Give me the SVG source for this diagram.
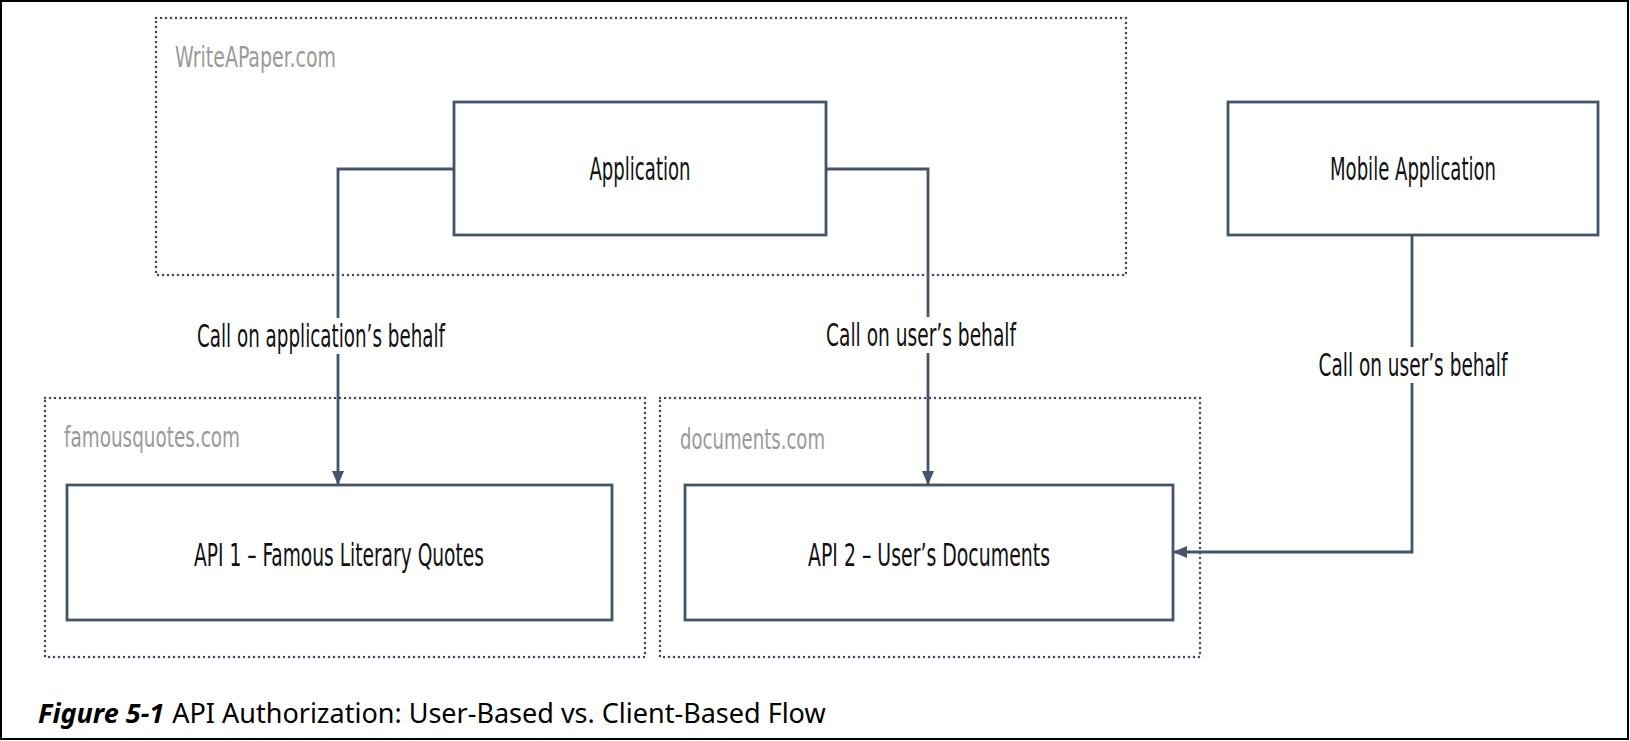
<svg xmlns="http://www.w3.org/2000/svg" width="1630" height="741" viewBox="0 0 1630 741">
<style>
.frame{fill:#fff;stroke:#000;stroke-width:2}
.zone{fill:none;stroke:#3f4858;stroke-width:2.5;stroke-dasharray:0 5;stroke-linecap:round}
.box{fill:#fff;stroke:#44546a;stroke-width:2.8}
.conn{fill:none;stroke:#44546a;stroke-width:2.8}
.t{font-family:"Liberation Sans Narrow","DejaVu Sans Condensed","Liberation Sans",sans-serif;fill:#111;text-anchor:middle;dominant-baseline:central;font-size:32px}
.zt{font-family:"Liberation Sans Narrow","DejaVu Sans Condensed","Liberation Sans",sans-serif;fill:#9a9a9a;dominant-baseline:central;font-size:29px}
.cap{font-family:"Noto Sans","Open Sans",sans-serif;fill:#000;font-size:27px}
.lbg{fill:#fff}
</style>
<defs>
<marker id="arr" viewBox="0 0 14 12" refX="14" refY="6" markerWidth="14" markerHeight="12" markerUnits="userSpaceOnUse" orient="auto">
<path d="M0,0 L14,6 L0,12 z" fill="#44546a"/>
</marker>
</defs>
<rect class="frame" x="1" y="1" width="1627" height="738"/>

<g id="zone-writeapaper">
<rect class="zone" x="156" y="18" width="970" height="257"/>
<text class="zt" x="175" y="57" textLength="161" lengthAdjust="spacingAndGlyphs">WriteAPaper.com</text>
</g>
<g id="zone-famousquotes">
<rect class="zone" x="45" y="398" width="600" height="259"/>
<text class="zt" x="64" y="437" textLength="176" lengthAdjust="spacingAndGlyphs">famousquotes.com</text>
</g>
<g id="zone-documents">
<rect class="zone" x="660" y="398" width="540" height="259"/>
<text class="zt" x="680" y="439" textLength="145" lengthAdjust="spacingAndGlyphs">documents.com</text>
</g>

<g id="connectors">
<path class="conn" d="M454,169 H338 V485" marker-end="url(#arr)"/>
<path class="conn" d="M826,169 H928 V485" marker-end="url(#arr)"/>
<path class="conn" d="M1412,235 V552 H1173" marker-end="url(#arr)"/>
<g id="label-left">
<rect class="lbg" x="195" y="318" width="252" height="36"/>
<text class="t" x="321" y="336" textLength="248" lengthAdjust="spacingAndGlyphs">Call on application’s behalf</text>
</g>
<g id="label-mid">
<rect class="lbg" x="824" y="317" width="194" height="36"/>
<text class="t" x="921" y="335" textLength="190" lengthAdjust="spacingAndGlyphs">Call on user’s behalf</text>
</g>
<g id="label-right">
<rect class="lbg" x="1316" y="347" width="193" height="36"/>
<text class="t" x="1413" y="365" textLength="189" lengthAdjust="spacingAndGlyphs">Call on user’s behalf</text>
</g>
</g>

<g id="node-application">
<rect class="box" x="454" y="102" width="372" height="133"/>
<text class="t" x="640" y="169" textLength="101" lengthAdjust="spacingAndGlyphs">Application</text>
</g>
<g id="node-mobile">
<rect class="box" x="1228" y="102" width="370" height="133"/>
<text class="t" x="1413" y="169" textLength="166" lengthAdjust="spacingAndGlyphs">Mobile Application</text>
</g>
<g id="node-api1">
<rect class="box" x="67" y="485" width="545" height="135"/>
<text class="t" x="339" y="555" textLength="290" lengthAdjust="spacingAndGlyphs">API 1 – Famous Literary Quotes</text>
</g>
<g id="node-api2">
<rect class="box" x="685" y="485" width="488" height="135"/>
<text class="t" x="929" y="555" textLength="242" lengthAdjust="spacingAndGlyphs">API 2 – User’s Documents</text>
</g>

<text class="cap" x="38" y="723"><tspan font-weight="bold" font-style="italic">Figure 5-1</tspan><tspan dx="8">API Authorization: User-Based vs. Client-Based Flow</tspan></text>
</svg>
